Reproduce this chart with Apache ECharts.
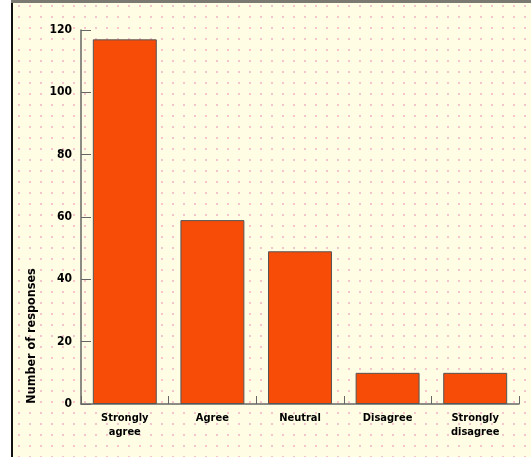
<!DOCTYPE html>
<html>
<head>
<meta charset="utf-8">
<script src="https://cdn.jsdelivr.net/npm/echarts@6/dist/echarts.min.js"></script>
<style>
  html, body { margin: 0; padding: 0; background: #fff; }
  #main { width: 531px; height: 457px; }
</style>
</head>
<body>
<div id="main"></div>
<script>
var categories = ['Strongly\nagree', 'Agree', 'Neutral', 'Disagree', 'Strongly\ndisagree'];
var responses = [117, 59, 49, 10, 10];
var yTicks = [0, 20, 40, 60, 80, 100, 120];

// dotted cream paper
function dotPattern() {
    var c = document.createElement('canvas');
    c.width = 11; c.height = 11;
    var ctx = c.getContext('2d');
    ctx.fillStyle = '#FFFDE4';
    ctx.fillRect(0, 0, 11, 11);
    ctx.fillStyle = '#F6C4CC';
    ctx.fillRect(5, 5, 2, 2);
    return c;
}

var myChart = echarts.init(document.getElementById('main'));
var font = '"DejaVu Sans Condensed", "Liberation Sans Narrow", sans-serif';

var option = {
    animation: false,
    grid: { left: 81, right: 12, top: 30, bottom: 53 },
    graphic: [
        { type: 'rect', left: 13, top: 0, shape: { width: 518, height: 457 },
          style: { fill: { image: dotPattern(), repeat: 'repeat' } }, z: -10 },
        { type: 'rect', left: 11, top: 0, shape: { width: 2, height: 457 }, style: { fill: '#111' } },
        { type: 'rect', left: 11, top: 0, shape: { width: 520, height: 3 }, style: { fill: '#7a7a72' } },
        { type: 'text', x: 25, y: 336, rotation: Math.PI / 2, originX: 0, originY: 0,
          style: { text: 'Number of responses', fill: '#000', font: 'bold 12.5px ' + font,
                   align: 'center', verticalAlign: 'top' } }
    ],
    xAxis: {
        type: 'category',
        data: categories,
        axisLine: { lineStyle: { color: '#666', width: 1.5 } },
        axisTick: { show: true, inside: true, length: 8, lineStyle: { color: '#666' } },
        axisLabel: { color: '#000', fontSize: 11, fontWeight: 'bold', fontFamily: font,
                     margin: 7, lineHeight: 14, interval: 0 }
    },
    yAxis: {
        type: 'value',
        min: 0, max: 120, interval: 20,
        axisLine: { show: true, lineStyle: { color: '#666', width: 1.5 } },
        axisTick: { show: true, inside: true, length: 10, lineStyle: { color: '#666' } },
        splitLine: { show: false },
        axisLabel: { color: '#000', fontSize: 12, fontWeight: 'bold', fontFamily: font, margin: 9,
                     formatter: function (v) { return yTicks.indexOf(v) >= 0 ? String(v) : ''; } }
    },
    series: [{
        type: 'bar',
        data: responses,
        barWidth: '73%',
        itemStyle: { color: '#F74C08', borderColor: '#555', borderWidth: 1 }
    }]
};
myChart.setOption(option);
</script>
</body>
</html>
